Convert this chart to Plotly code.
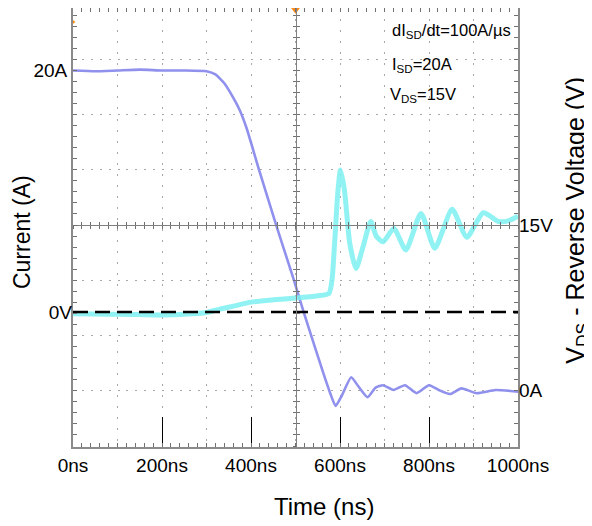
import plotly.graph_objects as go

# ---------------- data ----------------
time_ticks = [0, 200, 400, 600, 800, 1000]
time_tick_labels = ["0ns", "200ns", "400ns", "600ns", "800ns", "1000ns"]

current_t = [0, 50, 100, 150, 200, 250, 300, 320, 340, 360, 375, 390, 420, 458, 495,
             517, 540, 562, 578, 590, 605, 625, 642, 662, 680, 697, 720, 746, 772,
             800, 822, 847, 873, 907, 950, 1000]
current_a = [20.0, 19.95, 20.0, 20.05, 20.0, 20.0, 19.95, 19.75, 19.2, 18.3, 17.5, 16.4,
             13.6, 10.2, 7.0, 5.0, 3.0, 1.1, -0.2, -1.0, -0.3, 0.8, 0.2, -0.45, 0.15,
             0.3, 0.0, 0.3, -0.2, 0.3, 0.0, -0.25, 0.1, -0.2, 0.0, -0.1]

voltage_t = [0, 50, 100, 150, 200, 250, 300, 330, 360, 400, 450, 500, 550, 575, 582,
             588, 595, 601, 610, 622, 636, 652, 669, 682, 697, 721, 748, 782, 813,
             852, 885, 922, 956, 978, 1000]
voltage_v = [-0.3, -0.35, -0.4, -0.45, -0.5, -0.4, -0.1, 0.5, 1.0, 1.7, 2.1, 2.4, 2.8,
             3.2, 5.5, 12.0, 20.5, 24.5, 21.0, 11.8, 7.5, 11.3, 15.6, 13.0, 12.1, 14.4,
             10.7, 17.0, 11.0, 17.7, 12.9, 17.1, 15.6, 15.7, 16.5]

ref_line_t = [0, 1000]
ref_line_v = [0, 0]

trigger_time = [500]
trigger_level_v = [50]

current_label_vals = [20]
current_label_text = ["20A"]
current_right_vals = [0]
current_right_text = ["0A"]
voltage_right_vals = [15]
voltage_right_text = ["15V"]
voltage_left_vals = [0]
voltage_left_text = ["0V"]

# ---------------- layout constants ----------------
CUR_RANGE = [-3.568, 23.91]
VOLT_RANGE = [-23.28, 52.41]
DIV_RANGE = [-4.018, 3.928]
T_RANGE = [0, 1000]
CENTER_POS = 0.5057

FONT = "Liberation Sans, Arial, sans-serif"
FRAME = "#8a8a8a"
GRID = "#a8a8a8"
TICKC = "#707070"
BLUE = "rgba(135,135,235,0.92)"
CYAN = "rgba(125,240,240,0.85)"
ORANGE = "#ff8c1a"

fig = go.Figure()

fig.add_trace(go.Scatter(
    x=voltage_t, y=voltage_v, xaxis="x", yaxis="y2", mode="lines",
    line=dict(color=CYAN, width=5, shape="spline", smoothing=0.6),
    hoverinfo="skip", showlegend=False))

fig.add_trace(go.Scatter(
    x=ref_line_t, y=ref_line_v, xaxis="x", yaxis="y2", mode="lines",
    line=dict(color="black", width=2.5, dash="15px,7px"),
    hoverinfo="skip", showlegend=False))

fig.add_trace(go.Scatter(
    x=current_t, y=current_a, xaxis="x", yaxis="y", mode="lines",
    line=dict(color=BLUE, width=2.6, shape="spline", smoothing=0.5),
    hoverinfo="skip", showlegend=False))

fig.add_trace(go.Scatter(
    x=trigger_time, y=[VOLT_RANGE[1] - 0.3], xaxis="x", yaxis="y2", mode="markers",
    marker=dict(symbol="triangle-down", size=8, color=ORANGE),
    cliponaxis=False, hoverinfo="skip", showlegend=False))

fig.add_trace(go.Scatter(
    x=[T_RANGE[0]], y=trigger_level_v, xaxis="x", yaxis="y2", mode="markers",
    marker=dict(symbol="triangle-right", size=5, color=ORANGE),
    cliponaxis=False, hoverinfo="skip", showlegend=False))

# empty traces so the label / grid / centre-cross axes are drawn
for xa, ya in [("x", "y3"), ("x", "y4"), ("x2", "y5"), ("x3", "y6"), ("x4", "y7")]:
    fig.add_trace(go.Scatter(x=[None], y=[None], xaxis=xa, yaxis=ya, mode="lines",
                             hoverinfo="skip", showlegend=False))

tickfont = dict(family=FONT, size=19, color="black")
dotted_v = "2px,9.05px"
dotted_h = "2px,6.9px"

fig.update_layout(
    width=584, height=518,
    margin=dict(l=65, r=74, t=0, b=79, autoexpand=False),
    paper_bgcolor="white", plot_bgcolor="white",
    showlegend=False,
    xaxis=dict(range=T_RANGE, tickmode="array", tickvals=time_ticks,
               ticktext=time_tick_labels, ticks="inside", ticklen=30,
               tickcolor="black", tickwidth=1, showline=True, mirror=True,
               linecolor=FRAME, linewidth=2, showgrid=False, zeroline=False,
               tickfont=tickfont, fixedrange=True),
    xaxis2=dict(overlaying="x", range=T_RANGE, tickmode="linear", tick0=0, dtick=100,
                showgrid=True, gridcolor=GRID, gridwidth=1, griddash=dotted_v,
                showticklabels=False, ticks="inside", ticklen=4, tickcolor=TICKC,
                minor=dict(tickmode="linear", tick0=0, dtick=20, ticks="inside",
                           ticklen=4, tickcolor=TICKC, showgrid=False),
                mirror="ticks", showline=False, zeroline=False),
    xaxis3=dict(overlaying="x", anchor="free", position=CENTER_POS, range=T_RANGE,
                tickmode="linear", tick0=0, dtick=20, ticks="outside", ticklen=3,
                tickcolor=TICKC, showline=True, linecolor="#808080", linewidth=1,
                showticklabels=False, showgrid=False, zeroline=False),
    xaxis4=dict(overlaying="x", anchor="free", position=CENTER_POS, range=T_RANGE,
                tickmode="linear", tick0=0, dtick=20, ticks="inside", ticklen=3,
                tickcolor=TICKC, showline=False,
                showticklabels=False, showgrid=False, zeroline=False),
    yaxis=dict(range=CUR_RANGE, tickmode="array", tickvals=current_label_vals,
               ticktext=current_label_text, ticks="", showline=True, mirror=True,
               linecolor=FRAME, linewidth=2, showgrid=False, zeroline=False,
               tickfont=tickfont, fixedrange=True),
    yaxis2=dict(overlaying="y", side="right", range=VOLT_RANGE, tickmode="array",
                tickvals=voltage_right_vals, ticktext=voltage_right_text, ticks="",
                showgrid=False, zeroline=False, showline=False, tickfont=tickfont),
    yaxis3=dict(overlaying="y", side="left", range=VOLT_RANGE, tickmode="array",
                tickvals=voltage_left_vals, ticktext=voltage_left_text, ticks="",
                showgrid=False, zeroline=False, showline=False, tickfont=tickfont),
    yaxis4=dict(overlaying="y", side="right", range=CUR_RANGE, tickmode="array",
                tickvals=current_right_vals, ticktext=current_right_text, ticks="",
                showgrid=False, zeroline=False, showline=False, tickfont=tickfont),
    yaxis5=dict(overlaying="y", range=DIV_RANGE, tickmode="linear", tick0=0, dtick=1,
                showgrid=True, gridcolor=GRID, gridwidth=1, griddash=dotted_h,
                showticklabels=False, ticks="inside", ticklen=4, tickcolor=TICKC,
                minor=dict(tickmode="linear", tick0=0, dtick=0.2, ticks="inside",
                           ticklen=4, tickcolor=TICKC, showgrid=False),
                mirror="ticks", showline=False, zeroline=False),
    yaxis6=dict(overlaying="y", anchor="free", position=0.5, range=DIV_RANGE,
                tickmode="linear", tick0=0, dtick=0.2, ticks="outside", ticklen=3,
                tickcolor=TICKC, showline=True, linecolor="#808080", linewidth=1,
                showticklabels=False, showgrid=False, zeroline=False),
    yaxis7=dict(overlaying="y", anchor="free", position=0.5, range=DIV_RANGE,
                tickmode="linear", tick0=0, dtick=0.2, ticks="inside", ticklen=3,
                tickcolor=TICKC, showline=False,
                showticklabels=False, showgrid=False, zeroline=False),
)

# paper coordinates: x = (px - 73)/445 ; y = (447 - py)/439  (window pixels)
ann_font = dict(family=FONT, size=16.5, color="black")
annotations = [
    dict(text="dI<sub>SD</sub>/dt=100A/µs", x=0.7124, y=0.9465, xanchor="left"),
    dict(text="I<sub>SD</sub>=20A", x=0.7124, y=0.870, xanchor="left"),
    dict(text="V<sub>DS</sub>=15V", x=0.708, y=0.802, xanchor="left"),
]
for a in annotations:
    fig.add_annotation(xref="paper", yref="paper", yanchor="middle", showarrow=False,
                       font=ann_font, **a)

fig.add_annotation(text="Current (A)", xref="paper", yref="paper", x=-0.1146, y=0.4897,
                   textangle=-90, showarrow=False, xanchor="center", yanchor="middle",
                   font=dict(family=FONT, size=23, color="black"))
fig.add_annotation(text="Time (ns)", xref="paper", yref="paper", x=0.565, y=-0.136,
                   showarrow=False, xanchor="center", yanchor="middle",
                   font=dict(family=FONT, size=24, color="black"))
fig.add_annotation(text="V<sub>DS</sub> - Reverse Voltage (V)", xref="paper", yref="paper",
                   x=1.132, y=0.517, textangle=-90, showarrow=False,
                   xanchor="center", yanchor="middle",
                   font=dict(family=FONT, size=25, color="black"))

fig.write_html("out.html")
